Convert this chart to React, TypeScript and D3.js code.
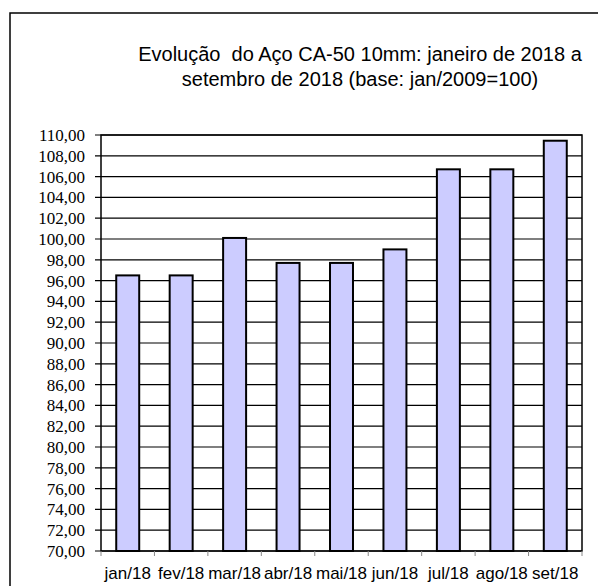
import React, { useEffect, useRef } from 'react';
import * as d3 from 'd3';

const months = ['jan/18', 'fev/18', 'mar/18', 'abr/18', 'mai/18', 'jun/18', 'jul/18', 'ago/18', 'set/18'];
const values = [96.5, 96.5, 100.1, 97.7, 97.7, 99.0, 106.7, 106.7, 109.45];
const yTicks = d3.range(70, 110.001, 2);
const titleLines = ['Evolução  do Aço CA-50 10mm: janeiro de 2018 a', 'setembro de 2018 (base: jan/2009=100)'];

const App: React.FC = () => {
  const svgRef = useRef<SVGSVGElement>(null);
  const W = 598;
  const H = 586;
  const plot = { left: 101, right: 582, top: 135, bottom: 551 };

  useEffect(() => {
    const svg = d3.select(svgRef.current);
    svg.selectAll('*').remove();

    const x = d3
      .scaleBand<string>()
      .domain(months)
      .range([plot.left, plot.right])
      .paddingInner(0.57)
      .paddingOuter(0.285);
    const y = d3.scaleLinear().domain([70, 110]).range([plot.bottom, plot.top]);
    const step = x.step();
    const start = plot.left;

    // outer chart border (right/bottom edges fall outside the picture)
    svg
      .append('rect')
      .attr('x', 10)
      .attr('y', 13)
      .attr('width', W)
      .attr('height', H)
      .attr('fill', 'none')
      .attr('stroke', '#000')
      .attr('stroke-width', 1.5);

    // title
    const title = svg
      .append('text')
      .attr('text-anchor', 'middle')
      .attr('font-family', "'Liberation Sans', Arial, sans-serif")
      .attr('font-size', 20)
      .style('white-space', 'pre')
      .attr('fill', '#000');
    titleLines.forEach((t, i) => {
      title
        .append('tspan')
        .attr('x', 360)
        .attr('y', 61 + i * 25)
        .text(t);
    });

    // gridlines
    svg
      .append('g')
      .selectAll('line')
      .data(yTicks)
      .join('line')
      .attr('x1', plot.left - 6)
      .attr('x2', plot.right)
      .attr('y1', (d) => y(d))
      .attr('y2', (d) => y(d))
      .attr('stroke', '#000')
      .attr('stroke-width', 1.2);

    // y labels
    svg
      .append('g')
      .selectAll('text')
      .data(yTicks)
      .join('text')
      .attr('x', 85)
      .attr('y', (d) => y(d))
      .attr('dy', '0.35em')
      .attr('text-anchor', 'end')
      .attr('font-family', "'Liberation Serif', 'Times New Roman', serif")
      .attr('font-size', 17)
      .attr('fill', '#000')
      .text((d) => d3.format('.2f')(d).replace('.', ','));

    // bars
    svg
      .append('g')
      .selectAll('rect')
      .data(values)
      .join('rect')
      .attr('x', (_, i) => x(months[i]) as number)
      .attr('y', (d) => y(d))
      .attr('width', x.bandwidth())
      .attr('height', (d) => plot.bottom - y(d))
      .attr('fill', '#CCCCFF')
      .attr('stroke', '#000')
      .attr('stroke-width', 2);

    // plot border
    svg
      .append('rect')
      .attr('x', plot.left)
      .attr('y', plot.top)
      .attr('width', plot.right - plot.left)
      .attr('height', plot.bottom - plot.top)
      .attr('fill', 'none')
      .attr('stroke', '#000')
      .attr('stroke-width', 1.5);

    // x ticks at category boundaries
    svg
      .append('g')
      .selectAll('line')
      .data(d3.range(months.length + 1))
      .join('line')
      .attr('x1', (i) => start + i * step)
      .attr('x2', (i) => start + i * step)
      .attr('y1', plot.bottom)
      .attr('y2', plot.bottom + 5)
      .attr('stroke', '#888')
      .attr('stroke-width', 1);

    // x labels
    svg
      .append('g')
      .selectAll('text')
      .data(months)
      .join('text')
      .attr('x', (d) => (x(d) as number) + x.bandwidth() / 2)
      .attr('y', 579)
      .attr('text-anchor', 'middle')
      .attr('font-family', "'Liberation Sans', Arial, sans-serif")
      .attr('font-size', 17)
      .attr('fill', '#000')
      .text((d) => d);
  }, []);

  return (
    <svg
      ref={svgRef}
      width={W}
      height={H}
      style={{ position: 'absolute', left: 0, top: 0, background: '#fff' }}
    />
  );
};

export default App;
